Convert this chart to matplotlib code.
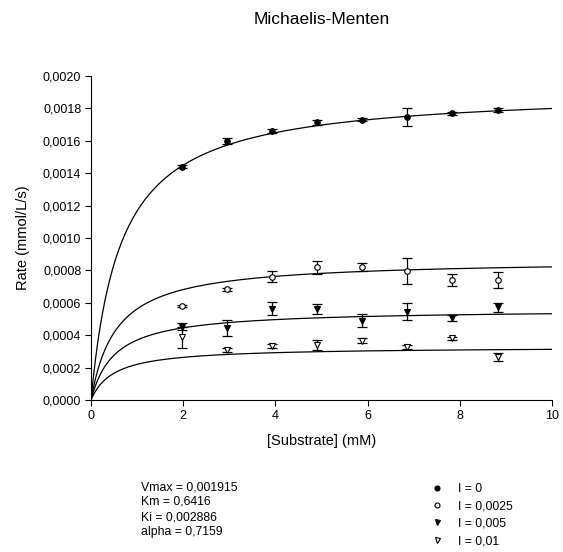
#! /usr/bin/env python3
# Michaelis-Menten fit with mixed inhibition, four inhibitor levels

import numpy as np
import matplotlib
matplotlib.use('Agg')
import matplotlib.pyplot as plt
from matplotlib.ticker import FuncFormatter

plt.rcParams['font.family'] = ['Liberation Sans', 'DejaVu Sans']

# fit parameters
VMAX = 0.001915
KM = 0.6416
KI = 0.002886
ALPHA = 0.7159

substrate = [1.97, 2.95, 3.92, 4.90, 5.87, 6.86, 7.83, 8.82]
inhibitor = [0, 0.0025, 0.005, 0.01]
labels = ['I = 0', 'I = 0,0025', 'I = 0,005', 'I = 0,01']

rate_i0 = [0.001440, 0.001599, 0.001660, 0.001714, 0.001730, 0.001745, 0.001770, 0.001790]
err_i0 = [0.000010, 0.000020, 0.000012, 0.000015, 0.000010, 0.000055, 0.000008, 0.000012]
rate_i1 = [0.000580, 0.000683, 0.000761, 0.000819, 0.000819, 0.000798, 0.000740, 0.000740]
err_i1 = [0.000008, 0.000008, 0.000034, 0.000040, 0.000025, 0.000080, 0.000036, 0.000050]
rate_i2 = [0.000453, 0.000442, 0.000562, 0.000562, 0.000490, 0.000545, 0.000506, 0.000572]
err_i2 = [0.000020, 0.000050, 0.000040, 0.000030, 0.000042, 0.000053, 0.000016, 0.000026]
rate_i3 = [0.000387, 0.000309, 0.000333, 0.000340, 0.000366, 0.000329, 0.000381, 0.000267]
err_i3 = [0.000063, 0.000010, 0.000010, 0.000033, 0.000017, 0.000012, 0.000008, 0.000026]

rates = [rate_i0, rate_i1, rate_i2, rate_i3]
errs = [err_i0, err_i1, err_i2, err_i3]
markers = ['o', 'o', 'v', 'v']
faces = ['black', 'white', 'black', 'white']


def mixed(s, i):
    return VMAX * s / (KM * (1 + i / KI) + s * (1 + i / (ALPHA * KI)))


fig = plt.figure(figsize=(5.63, 5.52), dpi=100)
ax = fig.add_axes([91 / 563, 1 - 400 / 552, 461 / 563, 324 / 552])

s = np.linspace(0, 10, 400)
handles = []
for i, r, e, m, fc, lab in zip(inhibitor, rates, errs, markers, faces, labels):
    ax.plot(s, mixed(s, i), color='black', lw=0.9)
    ax.errorbar(substrate, r, yerr=e, fmt='none', ecolor='black',
                elinewidth=0.9, capsize=3.5, capthick=0.9)
    h, = ax.plot(substrate, r, linestyle='none', marker=m, ms=4,
                 mfc=fc, mec='black', mew=0.8, label=lab)
    handles.append(h)

ax.set_xlim(0, 10)
ax.set_ylim(0, 0.002)
ax.set_xticks(range(0, 11, 2))
ax.set_yticks(np.arange(0, 0.00201, 0.0002))
ax.yaxis.set_major_formatter(FuncFormatter(lambda v, p: ('%.4f' % v).replace('.', ',')))
ax.spines['top'].set_visible(False)
ax.spines['right'].set_visible(False)
ax.tick_params(direction='out', length=4, width=0.8, labelsize=9, pad=3)
ax.set_xlabel('[Substrate] (mM)', fontsize=10.5, labelpad=9)
ax.set_ylabel('Rate (mmol/L/s)', fontsize=10.5, labelpad=9)

fig.text(322 / 563, 1 - 20 / 552, 'Michaelis-Menten', ha='center', va='center', fontsize=12.5)

params = ['Vmax = 0,001915', 'Km = 0,6416', 'Ki = 0,002886', 'alpha = 0,7159']
for k, t in enumerate(params):
    fig.text(141 / 563, 1 - (487 + 15 * k) / 552, t, va='center', fontsize=8.8)

fig.legend(handles=handles, loc='upper left', bbox_to_anchor=(431 / 563, 1 - 483 / 552),
           frameon=False, fontsize=8.8, handletextpad=1.22, labelspacing=0.44,
           handlelength=1.0, borderpad=0, borderaxespad=0, markerscale=0.9)

plt.savefig('out.png', dpi=100)
